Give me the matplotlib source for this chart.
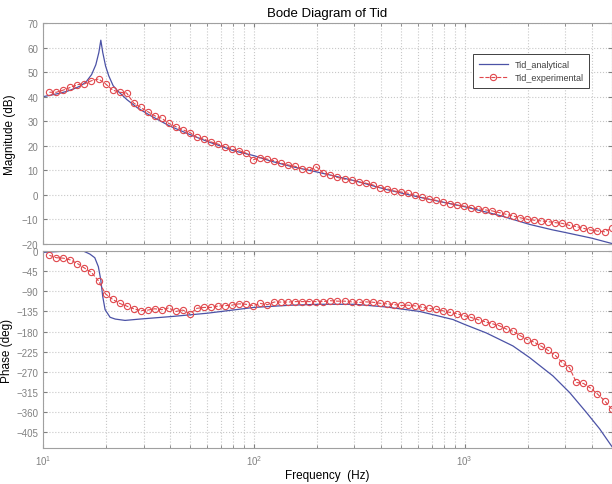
import numpy as np
import matplotlib
matplotlib.use("Agg")
from matplotlib import pyplot as plt
from matplotlib.ticker import LogLocator, NullFormatter

plt.rcParams['font.family'] = ['Liberation Sans', 'DejaVu Sans']

# analytical curve
f_ana_mag = [10, 11, 12, 13, 14, 15, 16, 17, 17.8, 18.4, 18.8, 19.2, 19.8, 20.5,
             21.5, 22.5, 23.5, 25, 28, 32, 40, 50, 60, 70, 80, 100, 120, 150,
             200, 300, 425, 600, 1000, 1500, 2030, 2600, 3000, 4000, 5000]
mag_ana = [40.0, 40.7, 41.4, 42.2, 43.2, 44.3, 46.0, 49.0, 53.0, 58.0, 63.0, 58.0,
           52.5, 48.5, 44.5, 42.5, 41.0, 38.8, 35.5, 32.5, 28.0, 24.5, 21.8, 19.8,
           18.0, 16.0, 13.8, 11.6, 9.3, 5.8, 2.2, -0.8, -4.8, -8.6, -12.0, -14.2,
           -15.3, -17.6, -19.8]

f_ana_ph = [10, 11.5, 13, 14, 15, 15.5, 16.2, 16.7, 17.6, 18.3, 18.8, 19.2, 19.7,
            20.8, 22, 24.5, 28.8, 41.5, 60, 100, 150, 205, 300, 425, 612, 880,
            1000, 1267, 1694, 2032, 2623, 3146, 3772, 4365, 5000]
ph_ana = [-3, -1.5, 0, 3, 2, 0, -4, -7, -15, -35, -65, -102, -131, -148, -152,
          -155, -152, -146, -139, -126, -121, -119, -119, -125, -135, -153, -164,
          -183, -212, -238, -279, -316, -360, -397, -437]

# experimental points
f_exp = [10.72, 11.57, 12.49, 13.49, 14.57, 15.73, 16.98, 18.34, 19.80, 21.38,
         23.09, 24.93, 26.92, 29.07, 31.39, 33.89, 36.59, 39.51, 42.67, 46.07,
         49.75, 53.71, 58.00, 62.62, 67.62, 73.01, 78.84, 85.13, 91.92, 99.25,
         107.2, 115.7, 124.9, 134.9, 145.7, 157.3, 169.8, 183.4, 198.0, 213.8,
         230.9, 249.3, 269.2, 290.7, 313.9, 338.9, 365.9, 395.1, 426.7, 460.7,
         497.5, 537.1, 580.0, 626.2, 676.2, 730.1, 788.4, 851.3, 919.2, 992.5,
         1071.5, 1157, 1249, 1349, 1457, 1573, 1698, 1834, 1980, 2138,
         2309, 2493, 2692, 2907, 3139, 3389, 3659, 3951, 4267, 4607, 4974]
mag_exp = [41.8, 41.8, 42.7, 43.8, 44.9, 45.2, 46.5, 47.2, 45.2, 42.7,
           41.8, 41.5, 37.4, 35.6, 33.9, 32.2, 31.2, 29.1, 27.8, 26.5,
           25.4, 23.4, 22.7, 21.6, 20.7, 19.6, 18.6, 18.0, 17.0, 14.3,
           15.2, 14.6, 13.9, 12.9, 12.2, 11.6, 10.7, 10.2, 11.4, 9.0,
           8.1, 7.1, 6.4, 6.0, 5.3, 4.8, 4.1, 3.0, 2.6, 1.6,
           1.2, 0.7, -0.1, -1.0, -1.8, -2.2, -3.0, -3.5, -4.2, -4.6,
           -5.2, -5.6, -6.1, -6.5, -7.2, -7.9, -8.6, -9.3, -9.9, -10.3,
           -10.6, -10.9, -11.3, -11.6, -12.4, -12.9, -13.6, -14.3, -14.7, -15.0,
           -13.6]
ph_exp = [-9.6, -15, -16, -20, -28, -38, -48, -67, -96, -108,
          -117, -123, -129, -133, -132, -129, -131, -127, -135, -132,
          -140, -128, -126, -126, -123, -122, -121, -118, -119, -122,
          -117, -120, -114, -114, -114, -113, -113, -113, -113, -113,
          -111, -112, -112, -113.6, -115, -113.6, -114.3, -116.6, -118, -119.5,
          -121.7, -121, -122.5, -125.4, -128.4, -129.8, -133.5, -137.2, -140.2, -144.6,
          -148.3, -153.4, -157.9, -162.3, -166.7, -174.1, -179.3, -188.9, -197.7, -203.6,
          -212.5, -222.1, -233.2, -249.4, -260.4, -293.6, -295.8, -306.1, -319.4, -334.2,
          -352.6]

mag_ticks = list(range(-20, 71, 10))
ph_ticks = list(range(-405, 1, 45))

blue = '#4b52a6'
red = '#e0474c'
grey = '#808080'

fig = plt.figure(figsize=(6.12, 4.85), dpi=100)
ax1 = fig.add_axes([0.0703, 0.4948, 0.9297, 0.4557])
ax2 = fig.add_axes([0.0703, 0.0742, 0.9297, 0.4062])

ax1.semilogx(f_ana_mag, mag_ana, color=blue, lw=0.9, label='Tid_analytical')
ax1.semilogx(f_exp, mag_exp, '--o', color=red, lw=0.8, ms=4.5, mfc='none',
             mew=0.8, label='Tid_experimental')
ax2.semilogx(f_ana_ph, ph_ana, color=blue, lw=0.9)
ax2.semilogx(f_exp, ph_exp, '--o', color=red, lw=0.8, ms=4.5, mfc='none', mew=0.8)

ax1.set_ylim(-20, 70)
ax1.set_yticks(mag_ticks)
ax2.set_ylim(-440, 0)
ax2.set_yticks(ph_ticks)

for ax in (ax1, ax2):
    ax.set_xlim(10, 5000)
    ax.xaxis.set_minor_locator(LogLocator(base=10, subs=np.arange(2, 10)))
    ax.xaxis.set_minor_formatter(NullFormatter())
    ax.grid(True, which='major', ls=':', color='#c8c8c8', lw=0.8)
    ax.grid(True, which='minor', axis='x', ls=':', color='#c8c8c8', lw=0.8)
    ax.tick_params(which='both', direction='in', top=True, right=True,
                   colors=grey, labelsize=7, length=3)
    ax.tick_params(which='minor', length=2)
    for s in ax.spines.values():
        s.set_color('#a0a0a0')
        s.set_linewidth(0.8)

ax1.tick_params(labelbottom=False)
ax2.tick_params(axis='x', pad=4)

ax1.set_title('Bode Diagram of Tid', fontsize=9.5, pad=5)
ax1.set_ylabel('Magnitude (dB)', fontsize=8.5)
ax1.yaxis.set_label_coords(-0.047, 0.5)
ax2.set_ylabel('Phase (deg)', fontsize=8.5)
ax2.yaxis.set_label_coords(-0.053, 0.5)
ax2.set_xlabel('Frequency  (Hz)', fontsize=8.5, labelpad=1)

leg = ax1.legend(loc='upper right', bbox_to_anchor=(0.968, 0.878), fontsize=6.5,
                 fancybox=False, framealpha=1, edgecolor='#404040',
                 handlelength=3.2, borderpad=0.6, labelspacing=0.5)
leg.get_frame().set_linewidth(0.7)
for t in leg.get_texts():
    t.set_color('#404040')

fig.savefig('out.png', dpi=100)
